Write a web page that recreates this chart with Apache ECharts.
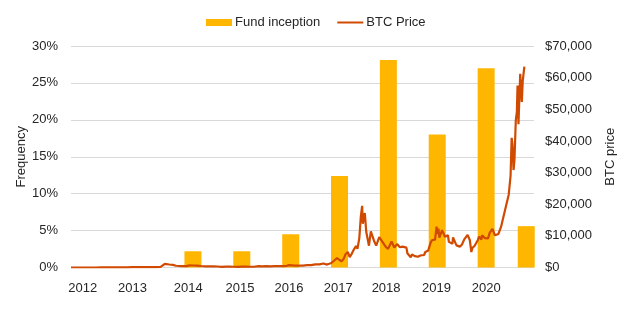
<!DOCTYPE html>
<html>
<head>
<meta charset="utf-8">
<script src="https://cdn.jsdelivr.net/npm/echarts@6/dist/echarts.min.js"></script>
<style>
  html, body { margin: 0; padding: 0; background: #ffffff; }
  #chart { width: 637px; height: 322px; }
</style>
</head>
<body>
<div id="chart"></div>
<script>
// Share of fund launches per year (%)
const fundYears = ['2014', '2015', '2016', '2017', '2018', '2019', '2020', '2021'];
const fundDates = ['2014-07-01', '2015-07-01', '2016-07-01', '2017-07-01', '2018-07-01', '2019-07-01', '2020-07-01', '2021-04-27'];
const fundShare = [2.2, 2.2, 4.5, 12.4, 28.1, 18.0, 27.0, 5.6];

// Bitcoin price in USD
const btcDates = [
  '2012-01-01','2012-03-01','2012-05-01','2012-07-01','2012-08-15','2012-10-01','2012-12-01',
  '2013-01-01','2013-02-01','2013-03-01','2013-04-01','2013-04-10','2013-04-20','2013-06-01','2013-07-01',
  '2013-08-01','2013-09-01','2013-10-01','2013-11-01','2013-11-18','2013-12-04','2013-12-18',
  '2014-01-05','2014-02-01','2014-02-25','2014-04-01','2014-04-15','2014-05-15','2014-06-03','2014-07-01',
  '2014-08-01','2014-09-01','2014-10-01','2014-11-01','2014-12-01',
  '2015-01-01','2015-01-14','2015-02-01','2015-03-01','2015-04-01','2015-05-01','2015-06-01','2015-07-01',
  '2015-08-01','2015-09-01','2015-10-01','2015-11-04','2015-12-01',
  '2016-01-01','2016-02-01','2016-03-01','2016-04-01','2016-05-01','2016-06-01','2016-06-17','2016-07-01',
  '2016-08-01','2016-09-01','2016-10-01','2016-11-01','2016-12-01',
  '2017-01-01','2017-01-12','2017-02-01','2017-03-03','2017-03-25','2017-04-15','2017-05-01','2017-05-25',
  '2017-06-12','2017-07-01','2017-07-16','2017-08-01','2017-08-15','2017-09-01','2017-09-15','2017-10-01',
  '2017-10-20','2017-11-01','2017-11-12','2017-11-26','2017-12-07','2017-12-17','2017-12-22','2017-12-28',
  '2018-01-06','2018-01-17','2018-01-27','2018-02-06','2018-02-20','2018-03-05','2018-03-18','2018-04-01',
  '2018-04-24','2018-05-05','2018-05-29','2018-06-12','2018-06-29','2018-07-25','2018-08-14','2018-09-04',
  '2018-09-25','2018-10-15','2018-11-13','2018-11-20','2018-11-25','2018-12-15','2018-12-24',
  '2019-01-15','2019-02-07','2019-02-25','2019-03-25','2019-04-03','2019-04-25','2019-05-14','2019-05-26',
  '2019-06-15','2019-06-26','2019-07-02','2019-07-10','2019-07-17','2019-08-06','2019-08-28','2019-09-19',
  '2019-09-26','2019-10-23','2019-10-27','2019-11-22','2019-12-17',
  '2020-01-01','2020-01-19','2020-02-13','2020-03-01','2020-03-08','2020-03-12','2020-03-20','2020-04-05',
  '2020-04-30','2020-05-09','2020-05-26','2020-06-01','2020-06-20','2020-07-15','2020-07-28','2020-08-17',
  '2020-09-05','2020-10-01','2020-10-21','2020-11-05','2020-11-25','2020-12-01','2020-12-17','2020-12-31',
  '2021-01-08','2021-01-14','2021-01-22','2021-01-29','2021-02-08','2021-02-16','2021-02-21','2021-02-28',
  '2021-03-13','2021-03-25','2021-04-01','2021-04-13'
];
const btcPrice = [
  5.3, 4.9, 5.0, 6.7, 11.5, 12.4, 12.5,
  13.5, 20, 34, 105, 230, 120, 129, 97,
  106, 140, 130, 205, 700, 1150, 520,
  950, 830, 550, 450, 520, 450, 670, 640,
  590, 480, 380, 330, 380,
  315, 180, 225, 255, 245, 235, 225, 262,
  285, 230, 237, 410, 370,
  432, 373, 435, 416, 450, 535, 760, 675,
  605, 575, 610, 730, 750,
  1000, 800, 990, 1280, 920, 1180, 1420, 2300,
  2950, 2430, 1930, 2720, 4200, 4900, 3300, 4400,
  6000, 6750, 5900, 9300, 16000, 19500, 13800, 15500,
  17200, 11200, 11500, 6900, 11400, 11500, 8200, 6900,
  9600, 9800, 7400, 6500, 5900, 8200, 6300, 7400,
  6400, 6600, 6300, 4500, 3900, 3200, 4100,
  3600, 3400, 3800, 3950, 4900, 5400, 8000, 8700,
  8800, 12900, 10600, 12300, 9400, 11800, 9700, 10200,
  8100, 7500, 9500, 7000, 6600,
  7200, 8900, 10300, 8600, 8000, 4900, 6200, 6800,
  8700, 9800, 8800, 10200, 9300, 9200, 11000, 12200,
  10200, 10600, 12900, 15600, 19100, 19700, 23000, 29000,
  41000, 39000, 30800, 34000, 46500, 49200, 57500, 45300,
  61200, 52300, 59000, 63500
];

// Year labels along the bottom axis and the dates they sit on
const yearLabels = ['2012', '2013', '2014', '2015', '2016', '2017', '2018', '2019', '2020'];
const yearLabelDates = ['2012-03-29', '2013-04-05', '2014-05-27', '2015-06-18', '2016-06-18',
                        '2017-06-21', '2018-06-14', '2019-06-25', '2020-07-01'];

const FONT = '"Liberation Sans", Arial, sans-serif';
const TEXT = '#262626';

// Calendar date -> decimal year, so the horizontal axis is a plain value axis
function decYear(d) {
  const t = new Date(d + 'T00:00:00Z');
  const y = t.getUTCFullYear();
  const start = Date.UTC(y, 0, 1), end = Date.UTC(y + 1, 0, 1);
  return y + (t.getTime() - start) / (end - start);
}

const labelPos = yearLabelDates.map(decYear);
function yearLabelAt(v) {
  for (let i = 0; i < labelPos.length; i++) {
    if (Math.abs(labelPos[i] - v) < 1e-6) return yearLabels[i];
  }
  return '';
}

const chart = echarts.init(document.getElementById('chart'), null, { renderer: 'canvas' });

chart.setOption({
  animation: false,
  backgroundColor: '#ffffff',
  textStyle: { fontFamily: FONT, color: TEXT },
  legend: {
    top: 11,
    left: 201,
    itemWidth: 26,
    itemHeight: 7,
    itemGap: 16,
    textStyle: { fontFamily: FONT, fontSize: 13, color: TEXT, padding: [0, 0, 0, -2] },
    data: [
      { name: 'Fund inception', icon: 'rect' },
      { name: 'BTC Price', itemStyle: { opacity: 0 } }
    ]
  },
  grid: { left: 71, right: 103, top: 46, bottom: 54.5, containLabel: false },
  xAxis: {
    type: 'value',
    min: decYear('2012-01-01'),
    max: decYear('2021-06-24'),
    axisLine: { show: false },
    axisTick: { show: false },
    splitLine: { show: false },
    axisLabel: {
      customValues: labelPos,
      formatter: v => yearLabelAt(v),
      margin: 14,
      fontSize: 13,
      fontFamily: FONT,
      color: TEXT,
      showMinLabel: true,
      showMaxLabel: true
    }
  },
  yAxis: [
    {
      type: 'value',
      min: 0,
      max: 30,
      interval: 5,
      name: 'Frequency',
      nameLocation: 'middle',
      nameGap: 43,
      nameMoveOverlap: false,
      nameTextStyle: { fontFamily: FONT, fontSize: 13, color: TEXT },
      axisLine: { show: false },
      axisTick: { show: false },
      axisLabel: { formatter: '{value}%', margin: 13, fontSize: 13, fontFamily: FONT, color: TEXT },
      splitLine: { lineStyle: { color: '#d9d9d9', width: 1 } }
    },
    {
      type: 'value',
      min: 0,
      max: 70000,
      interval: 10000,
      name: 'BTC price',
      nameLocation: 'middle',
      nameGap: 70,
      nameMoveOverlap: false,
      nameTextStyle: { fontFamily: FONT, fontSize: 13, color: TEXT },
      axisLine: { show: false },
      axisTick: { show: false },
      splitLine: { show: false },
      axisLabel: {
        formatter: v => '$' + v.toLocaleString('en-US'),
        margin: 11, fontSize: 13, fontFamily: FONT, color: TEXT
      }
    }
  ],
  series: [
    {
      name: 'Fund inception',
      type: 'bar',
      yAxisIndex: 0,
      barWidth: 17,
      itemStyle: { color: '#FFB600' },
      data: fundDates.map((d, i) => ({ value: [decYear(d), fundShare[i]], name: fundYears[i] }))
    },
    {
      name: 'BTC Price',
      type: 'line',
      yAxisIndex: 1,
      symbol: 'none',
      showSymbol: false,
      lineStyle: { color: '#D04A02', width: 2.2 },
      itemStyle: { color: '#D04A02' },
      z: 3,
      data: btcDates.map((d, i) => [decYear(d), btcPrice[i]])
    }
  ]
});
</script>
</body>
</html>
